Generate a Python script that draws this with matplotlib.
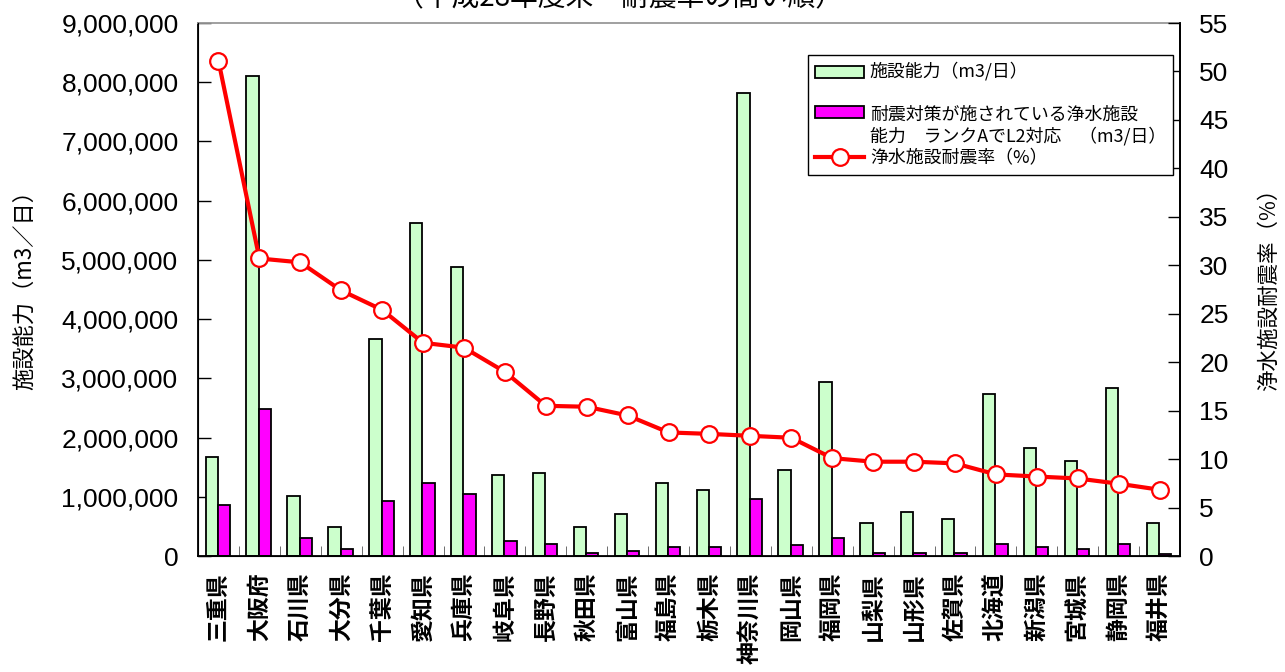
import matplotlib
matplotlib.use("Agg")
import matplotlib.pyplot as plt
import numpy as np
from matplotlib.ticker import FuncFormatter, MultipleLocator
from matplotlib.patches import Rectangle
from matplotlib.legend_handler import HandlerPatch

plt.rcParams['font.family'] = ['Liberation Sans', 'Noto Sans CJK JP', 'DejaVu Sans']

prefectures = ["三重県", "大阪府", "石川県", "大分県", "千葉県", "愛知県", "兵庫県", "岐阜県",
               "長野県", "秋田県", "富山県", "福島県", "栃木県", "神奈川県", "岡山県", "福岡県",
               "山梨県", "山形県", "佐賀県", "北海道", "新潟県", "宮城県", "静岡県", "福井県"]
capacity = [1670000, 8100000, 1020000, 495000, 3670000, 5620000, 4880000, 1360000,
            1400000, 495000, 710000, 1240000, 1115000, 7810000, 1450000, 2940000,
            550000, 740000, 620000, 2740000, 1820000, 1610000, 2830000, 550000]
quake_capacity = [860000, 2480000, 310000, 120000, 930000, 1240000, 1050000, 250000,
                  210000, 56000, 90000, 157000, 157000, 960000, 186000, 310000,
                  56000, 56000, 56000, 210000, 157000, 120000, 210000, 30000]
rate = [51.1, 30.7, 30.3, 27.4, 25.4, 22.0, 21.5, 19.0, 15.5, 15.4, 14.5, 12.75,
        12.6, 12.4, 12.2, 10.1, 9.73, 9.73, 9.56, 8.42, 8.2, 8.0, 7.46, 6.84]

label_cap = "施設能力（m3/日）"
label_quake = "耐震対策が施されている浄水施設\n能力　ランクAでL2対応　（m3/日）"
label_rate = "浄水施設耐震率（%）"
title = "（平成28年度末　耐震率の高い順）"

CJK = ['Noto Sans CJK JP', 'DejaVu Sans']

fig = plt.figure(figsize=(12.85, 6.72), dpi=100)
ax = fig.add_axes([198/1285, 1-556/672, (1180-198)/1285, (556-23)/672])
x = np.arange(len(prefectures))
w = 0.30
b1 = ax.bar(x - 0.165, capacity, w, color="#CCFFCC", edgecolor="black", linewidth=1.3,
            label=label_cap, zorder=2)
b2 = ax.bar(x + 0.135, quake_capacity, w, color="#FF00FF", edgecolor="black", linewidth=1.3,
            label=label_quake, zorder=2)
ax.set_xlim(-0.5, len(prefectures) - 0.5)
ax.set_ylim(0, 9000000)
ax.yaxis.set_major_locator(MultipleLocator(1000000))
ax.yaxis.set_major_formatter(FuncFormatter(lambda v, p: f"{int(v):,}"))
ax.tick_params(axis='y', direction='in', length=9, width=1, labelsize=19, pad=14)
ax.set_xticks(x)
ax.set_xticklabels(prefectures, rotation=90, fontsize=16.5, va='top', ha='center',
                   family=['Noto Sans CJK JP'], fontweight='bold')
ax.tick_params(axis='x', length=0, pad=12)
ax.set_xticks(np.arange(-0.5, len(prefectures)), minor=True)
ax.tick_params(axis='x', which='minor', direction='in', length=7, color='#555555')
for s in ['left', 'bottom', 'right']:
    ax.spines[s].set_color('black')
    ax.spines[s].set_linewidth(1.3)
ax.spines['top'].set_color('#999999')
ax.spines['top'].set_linewidth(1.3)
ax.set_ylabel("施設能力（m3／日）", fontsize=16, family=CJK)
ax.yaxis.set_label_coords((36-198)/982, 0.51)

ax2 = ax.twinx()
l1, = ax2.plot(x, rate, color="red", linewidth=3, marker="o", markersize=12,
               markerfacecolor="white", markeredgecolor="red", markeredgewidth=1.6,
               label=label_rate, zorder=3)
ax2.set_ylim(0, 55)
ax2.yaxis.set_major_locator(MultipleLocator(5))
ax2.tick_params(axis='y', direction='in', length=9, width=1, labelsize=19, pad=14)
ax2.spines['right'].set_color('black')
ax2.spines['right'].set_linewidth(1.3)
ax2.spines['top'].set_visible(False)
ax2.set_ylabel("浄水施設耐震率（%）", fontsize=15.5, family=CJK)
ax2.yaxis.set_label_coords((1258-198)/982, 0.51)
ax2.set_zorder(ax.get_zorder() + 1)
ax2.patch.set_visible(False)


def make_handler(dy_frac):
    def f(legend, orig_handle, xdescent, ydescent, width, height, fontsize):
        return Rectangle((-xdescent, -ydescent + dy_frac * fontsize), width, height)
    return HandlerPatch(patch_func=f)


h1 = b1.patches[0]
h2 = b2.patches[0]
leg = ax2.legend([h1, h2, l1], [label_cap + "\n", label_quake, label_rate],
                 loc='upper left', bbox_to_anchor=((808-198)/982, 1-(55-23)/533),
                 frameon=True, fancybox=False, edgecolor='black', framealpha=1,
                 prop={'family': CJK, 'size': 12.9},
                 handlelength=2.75, handleheight=0.6, handletextpad=0.3,
                 labelspacing=0.22, borderpad=0.4, borderaxespad=0,
                 handler_map={h1: make_handler(0.6), h2: make_handler(0.8)})
leg.get_frame().set_linewidth(1.0)

fig.text(620/1285, 1.0 + 2/672, title, fontsize=20,
         ha='center', va='center', family=CJK)

fig.savefig("out.png", dpi=100)
